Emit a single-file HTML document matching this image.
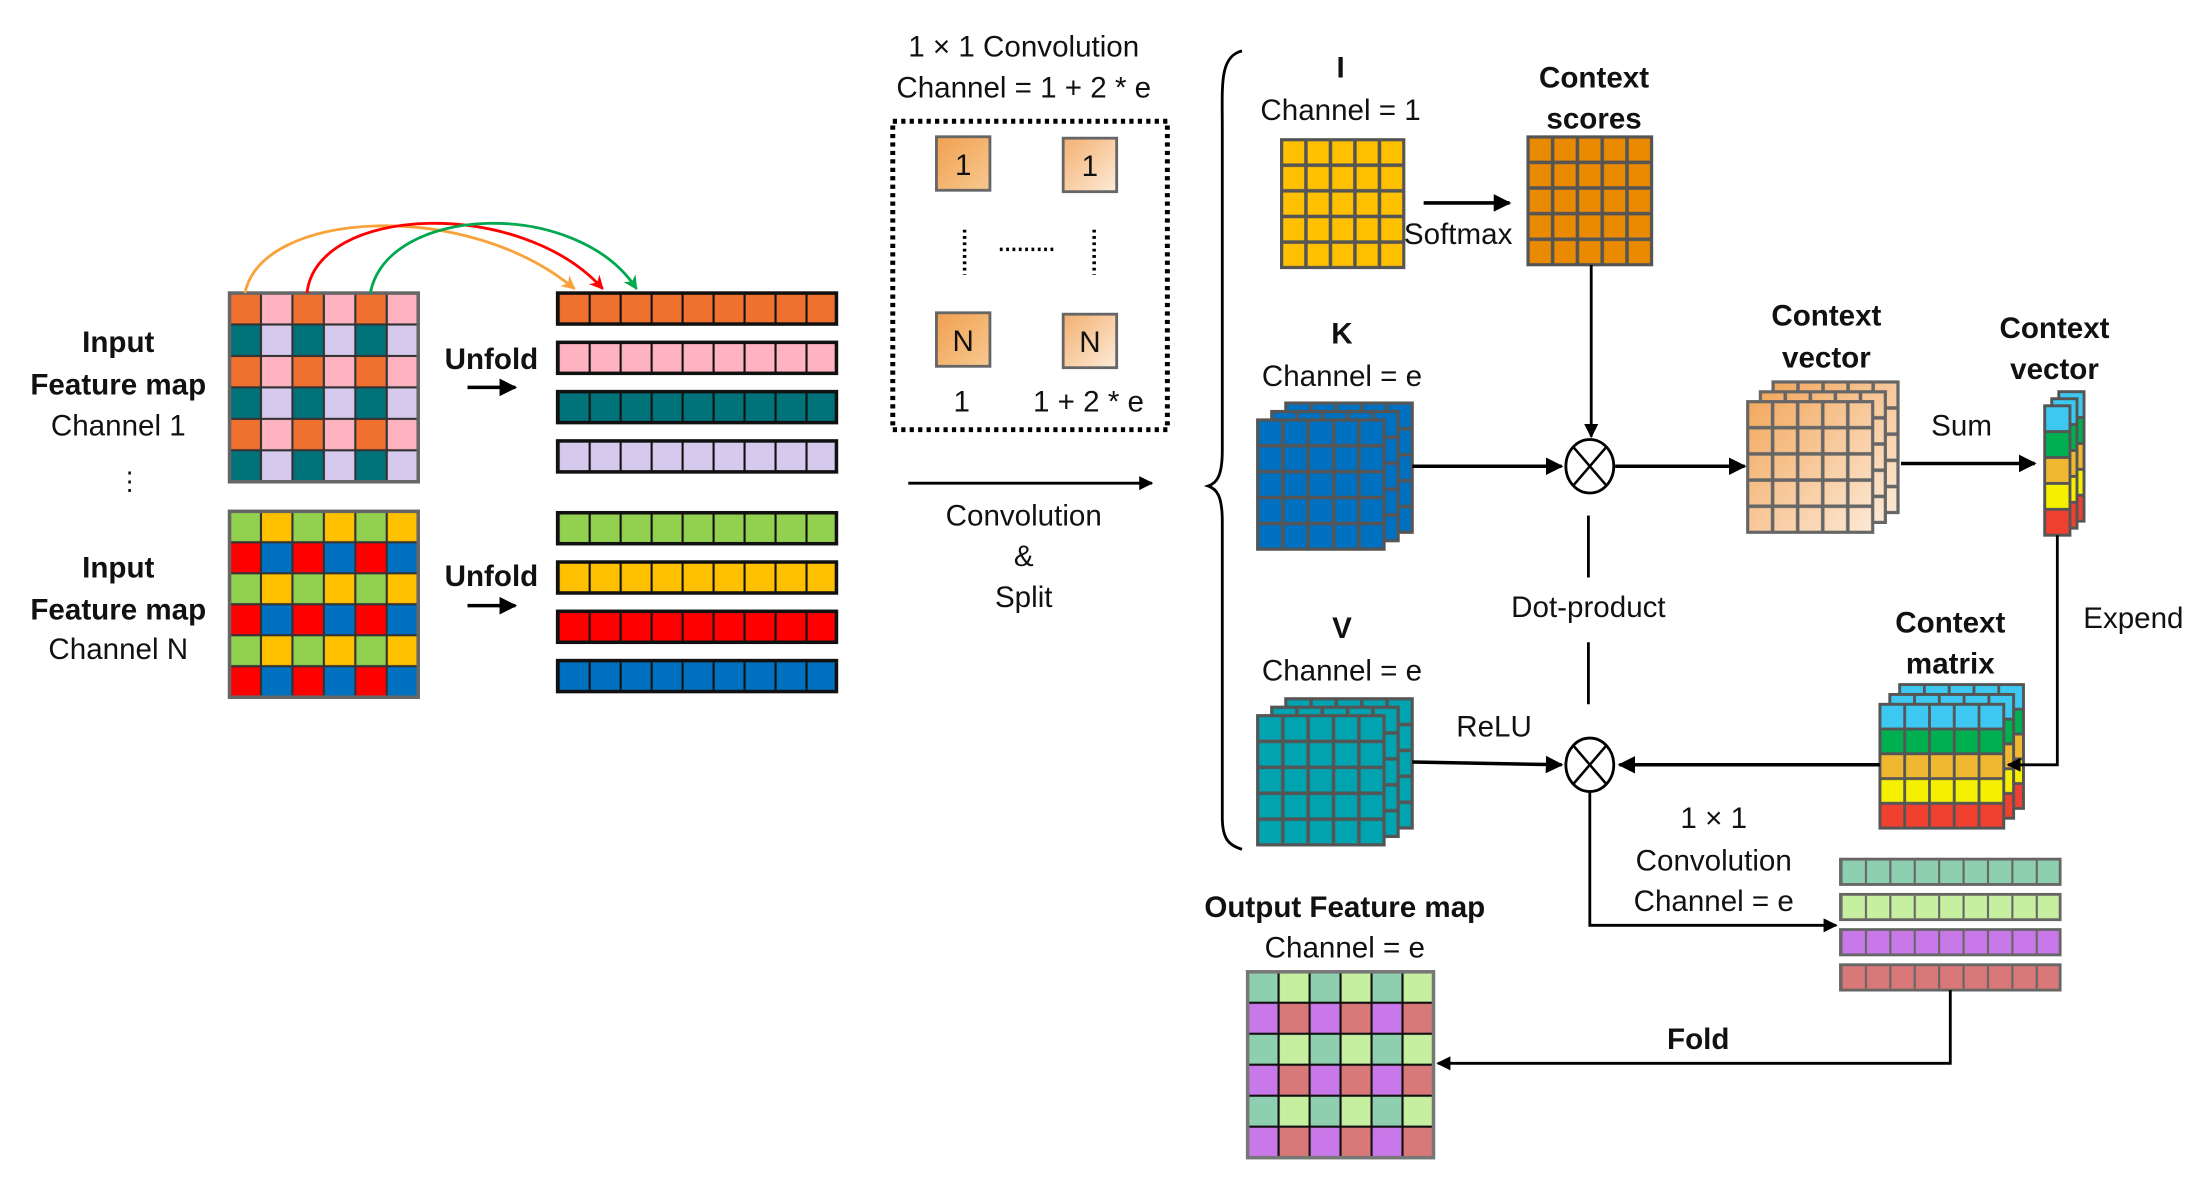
<!DOCTYPE html>
<html><head><meta charset="utf-8"><style>
html,body{margin:0;padding:0;background:#fff;}
svg{display:block;}
text{font-family:"Liberation Sans",Arial,sans-serif;font-size:21px;fill:#111;text-anchor:middle;}
.b{font-weight:bold;}
</style></head><body>
<svg width="2208" height="1186" viewBox="0 0 1568 842" xmlns="http://www.w3.org/2000/svg" xmlns:xlink="http://www.w3.org/1999/xlink">
<defs>
<marker id="ah" viewBox="0 0 10 10" refX="9" refY="5" markerWidth="5" markerHeight="5" orient="auto"><path d="M0,0 L10,5 L0,10 z" fill="#000"/></marker>
<marker id="ao" viewBox="0 0 10 10" refX="9" refY="5" markerWidth="5" markerHeight="5" orient="auto"><path d="M0,0 L10,5 L0,10 L3,5 z" fill="#F9A23A"/></marker>
<marker id="ar" viewBox="0 0 10 10" refX="9" refY="5" markerWidth="5" markerHeight="5" orient="auto"><path d="M0,0 L10,5 L0,10 L3,5 z" fill="#F00"/></marker>
<marker id="ag" viewBox="0 0 10 10" refX="9" refY="5" markerWidth="5" markerHeight="5" orient="auto"><path d="M0,0 L10,5 L0,10 L3,5 z" fill="#00A84F"/></marker>
<linearGradient id="pg1" x1="0" y1="0" x2="1" y2="1"><stop offset="0" stop-color="#F0A050"/><stop offset="1" stop-color="#F8C890"/></linearGradient>
<linearGradient id="pg2" x1="0" y1="0" x2="1" y2="1"><stop offset="0" stop-color="#F3B070"/><stop offset="1" stop-color="#FDEBD8"/></linearGradient>
<linearGradient id="peach" x1="0" y1="0" x2="1" y2="1"><stop offset="0" stop-color="#F2A85E"/><stop offset="1" stop-color="#FDE9D6"/></linearGradient>

<pattern id="pIn1" patternUnits="userSpaceOnUse" x="163" y="208" width="44.667" height="44.667">
<g stroke="#333" stroke-width="1.5"><rect x="0" y="0" width="22.333" height="22.333" fill="#F07030"/><rect x="22.333" y="0" width="22.333" height="22.333" fill="#FFB3C0"/><rect x="0" y="22.333" width="22.333" height="22.333" fill="#00727A"/><rect x="22.333" y="22.333" width="22.333" height="22.333" fill="#D6C9EE"/></g></pattern>
<pattern id="pInN" patternUnits="userSpaceOnUse" x="163" y="363" width="44.667" height="44">
<g stroke="#333" stroke-width="1.5"><rect x="0" y="0" width="22.333" height="22" fill="#92D050"/><rect x="22.333" y="0" width="22.333" height="22" fill="#FFC000"/><rect x="0" y="22" width="22.333" height="22" fill="#FF0000"/><rect x="22.333" y="22" width="22.333" height="22" fill="#0070C0"/></g></pattern>
<pattern id="pOut" patternUnits="userSpaceOnUse" x="886" y="690" width="44" height="44">
<g stroke="#111" stroke-width="1.5"><rect x="0" y="0" width="22" height="22" fill="#8ECFB0"/><rect x="22" y="0" width="22" height="22" fill="#C6EFA0"/><rect x="0" y="22" width="22" height="22" fill="#C878E8"/><rect x="22" y="22" width="22" height="22" fill="#D87878"/></g></pattern>
<pattern id="pV22" patternUnits="userSpaceOnUse" x="396" y="0" width="22" height="1000"><line x1="0" y1="0" x2="0" y2="1000" stroke="#111" stroke-width="3"/></pattern>
<pattern id="pV17" patternUnits="userSpaceOnUse" x="1307" y="0" width="17.333" height="1000"><line x1="0" y1="0" x2="0" y2="1000" stroke="#666" stroke-width="3"/></pattern>
<pattern id="pI" patternUnits="userSpaceOnUse" x="910" y="99" width="17.4" height="18.2"><rect width="17.4" height="18.2" fill="#FFC000" stroke="#555" stroke-width="2.5"/></pattern>
<pattern id="pS" patternUnits="userSpaceOnUse" x="1085" y="97" width="17.6" height="18.2"><rect width="17.6" height="18.2" fill="#EA8A00" stroke="#555" stroke-width="2.5"/></pattern>
<pattern id="pK" patternUnits="userSpaceOnUse" x="893" y="298" width="18" height="18.4"><rect width="18" height="18.4" fill="#0070C0" stroke="#555" stroke-width="2.5"/></pattern>
<pattern id="pVv" patternUnits="userSpaceOnUse" x="893" y="508" width="18" height="18.4"><rect width="18" height="18.4" fill="#00A3B0" stroke="#555" stroke-width="2.5"/></pattern>
<pattern id="pPe" patternUnits="userSpaceOnUse" x="1241" y="285" width="17.8" height="18.6"><rect width="17.8" height="18.6" fill="none" stroke="#666" stroke-width="2.5"/></pattern>
<pattern id="pSv" patternUnits="userSpaceOnUse" x="1452" y="288" width="18" height="92"><g stroke="#555" stroke-width="2"><rect y="0" width="18" height="18.4" fill="#3CC8F0"/><rect y="18.4" width="18" height="18.4" fill="#00B050"/><rect y="36.8" width="18" height="18.4" fill="#F0B830"/><rect y="55.2" width="18" height="18.4" fill="#F5F000"/><rect y="73.6" width="18" height="18.4" fill="#F04030"/></g></pattern>
<pattern id="pCm" patternUnits="userSpaceOnUse" x="1335" y="500" width="17.6" height="88"><g stroke="#555" stroke-width="2"><rect y="0" width="17.6" height="17.6" fill="#3CC8F0"/><rect y="17.6" width="17.6" height="17.6" fill="#00B050"/><rect y="35.2" width="17.6" height="17.6" fill="#F0B830"/><rect y="52.8" width="17.6" height="17.6" fill="#F5F000"/><rect y="70.4" width="17.6" height="17.6" fill="#F04030"/></g></pattern>

<g id="lK"><rect x="893" y="298" width="90" height="92" fill="url(#pK)" stroke="#555" stroke-width="2"/></g>
<g id="lV"><rect x="893" y="508" width="90" height="92" fill="url(#pVv)" stroke="#555" stroke-width="2"/></g>
<g id="lP"><rect x="1241" y="285" width="89" height="93" fill="url(#peach)"/><rect x="1241" y="285" width="89" height="93" fill="url(#pPe)" stroke="#666" stroke-width="2"/></g>
<g id="lS"><rect x="1452" y="288" width="18" height="92" fill="url(#pSv)" stroke="#555" stroke-width="2"/></g>
<g id="lC"><rect x="1335" y="500" width="88" height="88" fill="url(#pCm)" stroke="#555" stroke-width="2"/></g>
</defs>

<!-- grids -->
<rect x="163" y="208" width="134" height="134" fill="url(#pIn1)" stroke="#666" stroke-width="2.5"/>
<rect x="163" y="363" width="134" height="132" fill="url(#pInN)" stroke="#666" stroke-width="2.5"/>
<g stroke="#111" stroke-width="2.5">
<rect x="396" y="208" width="198" height="22" fill="#F07030"/>
<rect x="396" y="243" width="198" height="22" fill="#FFB3C0"/>
<rect x="396" y="278" width="198" height="22" fill="#00727A"/>
<rect x="396" y="313" width="198" height="22" fill="#D6C9EE"/>
<rect x="396" y="364" width="198" height="22" fill="#92D050"/>
<rect x="396" y="399" width="198" height="22" fill="#FFC000"/>
<rect x="396" y="434" width="198" height="22" fill="#FF0000"/>
<rect x="396" y="469" width="198" height="22" fill="#0070C0"/>
</g>
<g fill="url(#pV22)">
<rect x="397" y="209" width="196" height="20"/><rect x="397" y="244" width="196" height="20"/><rect x="397" y="279" width="196" height="20"/><rect x="397" y="314" width="196" height="20"/>
<rect x="397" y="365" width="196" height="20"/><rect x="397" y="400" width="196" height="20"/><rect x="397" y="435" width="196" height="20"/><rect x="397" y="470" width="196" height="20"/>
</g>
<rect x="910" y="99" width="87" height="91" fill="url(#pI)" stroke="#555" stroke-width="2"/>
<rect x="1085" y="97" width="88" height="91" fill="url(#pS)" stroke="#555" stroke-width="2"/>
<use xlink:href="#lK" href="#lK" transform="translate(20,-12)"/><use xlink:href="#lK" href="#lK" transform="translate(10,-6)"/><use xlink:href="#lK" href="#lK"/>
<use xlink:href="#lV" href="#lV" transform="translate(20,-12)"/><use xlink:href="#lV" href="#lV" transform="translate(10,-6)"/><use xlink:href="#lV" href="#lV"/>
<use xlink:href="#lP" href="#lP" transform="translate(18,-14)"/><use xlink:href="#lP" href="#lP" transform="translate(9,-7)"/><use xlink:href="#lP" href="#lP"/>
<use xlink:href="#lS" href="#lS" transform="translate(10,-10)"/><use xlink:href="#lS" href="#lS" transform="translate(5,-5)"/><use xlink:href="#lS" href="#lS"/>
<use xlink:href="#lC" href="#lC" transform="translate(14,-14)"/><use xlink:href="#lC" href="#lC" transform="translate(7,-7)"/><use xlink:href="#lC" href="#lC"/>
<g stroke="#666" stroke-width="2">
<rect x="1307" y="610" width="156" height="18" fill="#8ECFB0"/>
<rect x="1307" y="635" width="156" height="18" fill="#C6EFA0"/>
<rect x="1307" y="660" width="156" height="18" fill="#C878E8"/>
<rect x="1307" y="685" width="156" height="18" fill="#D87878"/>
</g>
<g fill="url(#pV17)">
<rect x="1308" y="611" width="154" height="16"/><rect x="1308" y="636" width="154" height="16"/><rect x="1308" y="661" width="154" height="16"/><rect x="1308" y="686" width="154" height="16"/>
</g>
<rect x="886" y="690" width="132" height="132" fill="url(#pOut)" stroke="#777" stroke-width="2.5"/>

<!-- left labels -->
<text x="84" y="250" class="b">Input</text>
<text x="84" y="280" class="b">Feature map</text>
<text x="84" y="309">Channel 1</text>
<text x="92" y="348" style="font-size:18px">⋮</text>
<text x="84" y="410" class="b">Input</text>
<text x="84" y="440" class="b">Feature map</text>
<text x="84" y="468">Channel N</text>

<text x="349" y="262" class="b">Unfold</text>
<line x1="332" y1="275" x2="366" y2="275" stroke="#000" stroke-width="2.5" marker-end="url(#ah)"/>
<text x="349" y="416" class="b">Unfold</text>
<line x1="332" y1="430" x2="366" y2="430" stroke="#000" stroke-width="2.5" marker-end="url(#ah)"/>

<path d="M174,208 C185,150 330,140 408,205" fill="none" stroke="#F9A23A" stroke-width="2" marker-end="url(#ao)"/>
<path d="M218,208 C225,145 370,140 428,205" fill="none" stroke="#F00" stroke-width="2" marker-end="url(#ar)"/>
<path d="M263,208 C275,145 410,140 452,205" fill="none" stroke="#00A84F" stroke-width="2" marker-end="url(#ag)"/>

<text x="727" y="40">1 × 1 Convolution</text>
<text x="727" y="69">Channel = 1 + 2 * e</text>
<rect x="634" y="86" width="195" height="219" fill="none" stroke="#000" stroke-width="3.5" stroke-dasharray="3,3"/>
<rect x="665" y="97" width="38" height="38" fill="url(#pg1)" stroke="#666" stroke-width="2"/>
<rect x="755" y="98" width="38" height="38" fill="url(#pg2)" stroke="#666" stroke-width="2"/>
<rect x="665" y="222" width="38" height="38" fill="url(#pg1)" stroke="#666" stroke-width="2"/>
<rect x="755" y="223" width="38" height="38" fill="url(#pg2)" stroke="#666" stroke-width="2"/>
<text x="684" y="124">1</text><text x="774" y="125">1</text>
<text x="684" y="249">N</text><text x="774" y="250">N</text>
<line x1="685" y1="163" x2="685" y2="195" stroke="#000" stroke-width="2.5" stroke-dasharray="2,2.5"/>
<line x1="777" y1="163" x2="777" y2="195" stroke="#000" stroke-width="2.5" stroke-dasharray="2,2.5"/>
<line x1="710" y1="177" x2="749" y2="177" stroke="#000" stroke-width="2.5" stroke-dasharray="2,2.5"/>
<text x="683" y="292">1</text>
<text x="773" y="292">1 + 2 * e</text>
<line x1="645" y1="343" x2="818" y2="343" stroke="#000" stroke-width="2" marker-end="url(#ah)"/>
<text x="727" y="373">Convolution</text>
<text x="727" y="402">&amp;</text>
<text x="727" y="431">Split</text>

<path d="M882,36 C866,40 868,60 868,90 L868,320 C868,338 864,343 858,345 C864,347 868,352 868,370 L868,580 C868,595 872,600 882,603" fill="none" stroke="#000" stroke-width="2"/>

<text x="952" y="55" class="b">I</text>
<text x="952" y="85">Channel = 1</text>
<text x="1132" y="62" class="b">Context</text>
<text x="1132" y="91" class="b">scores</text>
<line x1="1011" y1="144" x2="1072" y2="144" stroke="#000" stroke-width="2.5" marker-end="url(#ah)"/>
<text x="997" y="173" style="text-anchor:start">Softmax</text>
<text x="953" y="244" class="b">K</text>
<text x="953" y="274">Channel = e</text>
<text x="1297" y="231" class="b">Context</text>
<text x="1297" y="261" class="b">vector</text>
<text x="1459" y="240" class="b">Context</text>
<text x="1459" y="269" class="b">vector</text>
<text x="1393" y="309">Sum</text>
<text x="1128" y="438">Dot-product</text>
<text x="1515" y="446">Expend</text>
<text x="1385" y="449" class="b">Context</text>
<text x="1385" y="478" class="b">matrix</text>
<text x="953" y="453" class="b">V</text>
<text x="953" y="483">Channel = e</text>
<text x="1061" y="523">ReLU</text>
<text x="1217" y="588">1 × 1</text>
<text x="1217" y="618">Convolution</text>
<text x="1217" y="647">Channel = e</text>
<text x="955" y="651" class="b">Output Feature map</text>
<text x="955" y="680">Channel = e</text>
<text x="1206" y="745" class="b">Fold</text>

<line x1="1130" y1="188" x2="1130" y2="310" stroke="#000" stroke-width="2" marker-end="url(#ah)"/>
<line x1="1003" y1="331" x2="1109" y2="331" stroke="#000" stroke-width="2.5" marker-end="url(#ah)"/>
<line x1="1147" y1="331" x2="1239" y2="331" stroke="#000" stroke-width="2.5" marker-end="url(#ah)"/>
<line x1="1350" y1="329" x2="1445" y2="329" stroke="#000" stroke-width="2.5" marker-end="url(#ah)"/>
<polyline points="1461,380 1461,543 1426,543" fill="none" stroke="#000" stroke-width="2" marker-end="url(#ah)"/>
<line x1="1128" y1="366" x2="1128" y2="410" stroke="#000" stroke-width="2"/>
<line x1="1128" y1="456" x2="1128" y2="500" stroke="#000" stroke-width="2"/>
<line x1="1335" y1="543" x2="1150" y2="543" stroke="#000" stroke-width="2.5" marker-end="url(#ah)"/>
<line x1="1003" y1="541" x2="1109" y2="543" stroke="#000" stroke-width="2.5" marker-end="url(#ah)"/>
<polyline points="1129,561 1129,657 1304,657" fill="none" stroke="#000" stroke-width="2" marker-end="url(#ah)"/>
<polyline points="1385,703 1385,755 1021,755" fill="none" stroke="#000" stroke-width="2" marker-end="url(#ah)"/>
<g fill="#fff" stroke="#000" stroke-width="2">
<ellipse cx="1129" cy="331" rx="17" ry="19"/>
<ellipse cx="1129" cy="543" rx="17" ry="19"/>
</g>
<g stroke="#000" stroke-width="1.8">
<line x1="1117" y1="317" x2="1141" y2="345"/><line x1="1141" y1="317" x2="1117" y2="345"/>
<line x1="1117" y1="529" x2="1141" y2="557"/><line x1="1141" y1="529" x2="1117" y2="557"/>
</g>
</svg>
</body></html>
